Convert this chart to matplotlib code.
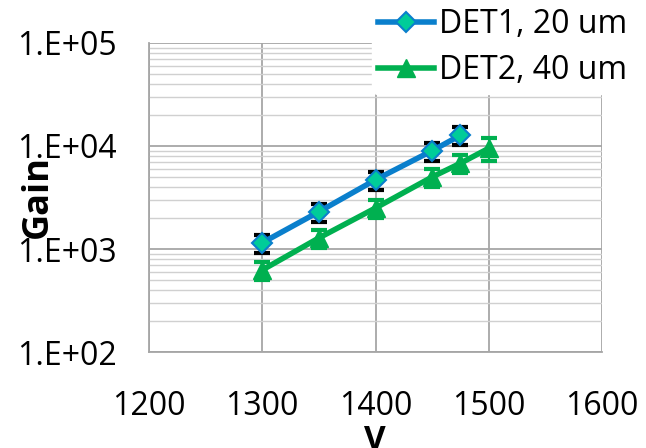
import matplotlib
matplotlib.use("Agg")
import matplotlib.pyplot as plt
from matplotlib.ticker import LogLocator, FixedLocator, FuncFormatter

plt.rcParams["font.family"] = ["Open Sans", "DejaVu Sans"]

#====Data
v_det1 = [1300, 1350, 1400, 1450, 1475]
gain_det1 = [1150, 2300, 4700, 9000, 12700]
err_det1 = [230, 460, 940, 1800, 2540]

v_det2 = [1300, 1350, 1400, 1450, 1475, 1500]
gain_det2 = [625, 1280, 2500, 5000, 6800, 9500]
err_det2 = [125, 256, 500, 1000, 1360, 2400]

xticks = [1200, 1300, 1400, 1500, 1600]
yticks = [1e2, 1e3, 1e4, 1e5]
ytick_labels = ["1.E+02", "1.E+03", "1.E+04", "1.E+05"]

blue = "#0A7FCC"
teal = "#00CC99"
green = "#00B050"

fig = plt.figure(figsize=(6.46, 4.48), dpi=100)
ax = fig.add_axes([149/646, 1 - 352/448, (602-149)/646, (352-43)/448])

ax.set_yscale("log")
ax.set_xlim(1200, 1600)
ax.set_ylim(1e2, 1e5)

#grid
ax.xaxis.set_major_locator(FixedLocator(xticks))
ax.yaxis.set_major_locator(FixedLocator(yticks))
ax.yaxis.set_minor_locator(LogLocator(base=10, subs=range(2, 10)))
ax.yaxis.set_major_formatter(FuncFormatter(lambda y, p: ytick_labels[yticks.index(y)] if y in yticks else ""))
ax.yaxis.set_minor_formatter(FuncFormatter(lambda y, p: ""))
ax.grid(True, which="major", color="#A6A6A6", lw=1.3)
ax.grid(True, which="minor", axis="y", color="#D0D0D0", lw=1.0)
ax.set_axisbelow(True)
for s in ["top", "right"]:
    ax.spines[s].set_visible(False)
for s in ["left", "bottom"]:
    ax.spines[s].set_color("#A6A6A6")
    ax.spines[s].set_linewidth(1.3)
ax.tick_params(which="both", length=0, labelsize=23)
ax.tick_params(axis="x", pad=27)
ax.tick_params(axis="y", pad=23)

#series
ax.errorbar(v_det1, gain_det1, yerr=err_det1, fmt="none", ecolor="black",
            elinewidth=1.5, capsize=6, capthick=3, zorder=3)
ax.plot(v_det1, gain_det1, color=blue, lw=4, marker="D", ms=10,
        mfc=teal, mec=blue, mew=1.5, label="DET1, 20 um", zorder=4)
ax.errorbar(v_det2, gain_det2, yerr=err_det2, fmt="none", ecolor=green,
            elinewidth=1.5, capsize=6, capthick=3, zorder=3)
ax.plot(v_det2, gain_det2, color=green, lw=4, marker="^", ms=13,
        mfc=green, mec=green, label="DET2, 40 um", zorder=4)

fig.text(375/646, 1 - 440/448, "V", fontsize=24, fontweight="bold",
         ha="center", va="center")
fig.text(38/646, 1 - 197/448, "Gain", rotation=90, fontsize=26,
         fontweight="bold", ha="center", va="center")

leg = ax.legend(loc="upper left", bbox_to_anchor=(372/646, 1 - 2/448),
                bbox_transform=fig.transFigure, fontsize=23, frameon=True,
                handlelength=1.75, handletextpad=0.15, labelspacing=0.4,
                borderaxespad=0, borderpad=0.2)
leg.get_frame().set_edgecolor("white")
leg.get_frame().set_facecolor("white")
leg.get_frame().set_alpha(1)

plt.savefig("out.png", dpi=100)
